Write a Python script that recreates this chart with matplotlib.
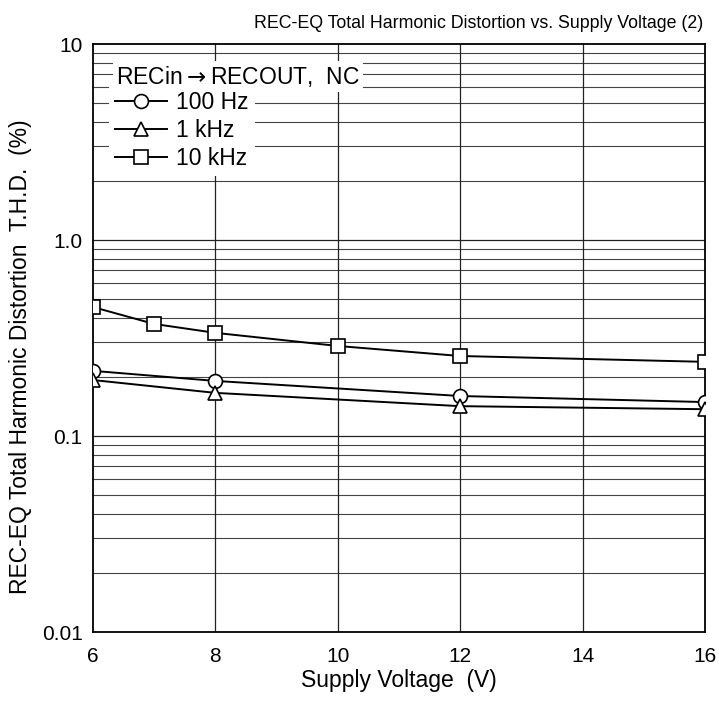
import numpy as np
import matplotlib
matplotlib.use("Agg")
import matplotlib.pyplot as plt
from matplotlib.ticker import FixedLocator, NullFormatter

plt.rcParams['font.family'] = ['Liberation Sans', 'DejaVu Sans']

# datos
v_sq = [6, 7, 8, 10, 12, 16]
thd_10k = [0.455, 0.373, 0.336, 0.288, 0.256, 0.239]

v_ci = [6, 8, 12, 16]
thd_100 = [0.215, 0.191, 0.160, 0.149]
thd_1k = [0.193, 0.166, 0.142, 0.137]

x_ticks = [6, 8, 10, 12, 14, 16]
y_ticks = [0.01, 0.1, 1.0, 10]
y_labels = ['0.01', '0.1', '1.0', '10']

fig = plt.figure(figsize=(7.19, 7.02), dpi=100)
ax = fig.add_axes([0.1293, 0.0997, 0.8512, 0.8376])

ax.set_yscale('log')
ax.set_xlim(6, 16)
ax.set_ylim(0.01, 10)

# rejilla
minors = [m * 10.0**d for d in range(-2, 1) for m in range(2, 10)]
for yv in minors:
    ax.axhline(yv, color='#444444', lw=0.8, zorder=1)
for yv in y_ticks[1:-1]:
    ax.axhline(yv, color='#222222', lw=0.9, zorder=1)
for xv in x_ticks[1:-1]:
    ax.axvline(xv, color='#222222', lw=0.9, zorder=1)

kw = dict(color='black', lw=1.4, markersize=10, markerfacecolor='white',
          markeredgecolor='black', markeredgewidth=1.2, zorder=3)
ax.plot(v_ci, thd_100, marker='o', label='100 Hz', **kw)
ax.plot(v_ci, thd_1k, marker='^', label='1 kHz', **kw)
ax.plot(v_sq, thd_10k, marker='s', label='10 kHz', **kw)

ax.xaxis.set_major_locator(FixedLocator(x_ticks))
ax.yaxis.set_major_locator(FixedLocator(y_ticks))
ax.yaxis.set_minor_formatter(NullFormatter())
ax.yaxis.set_minor_locator(FixedLocator([]))
ax.set_yticklabels(y_labels)
ax.tick_params(length=0, labelsize=15)
ax.tick_params(axis='x', pad=11)
ax.tick_params(axis='y', pad=7.5)

for s in ax.spines.values():
    s.set_linewidth(1.3)

ax.set_xlabel('Supply Voltage  (V)', fontsize=16.5, labelpad=2)
ax.set_ylabel('REC-EQ Total Harmonic Distortion  T.H.D.  (%)', fontsize=16.5)
ax.yaxis.set_label_coords(-0.100, 0.469)
fig.text(703 / 719, 1 - 23 / 702, 'REC-EQ Total Harmonic Distortion vs. Supply Voltage (2)',
         fontsize=12.8, ha='right', va='center')

# titulo de la leyenda con fondo blanco propio
ax.text(0.0376, 0.945, r'RECin$\rightarrow$RECOUT,  NC', transform=ax.transAxes,
        fontsize=16.5, ha='left', va='center', zorder=6,
        bbox=dict(facecolor='white', edgecolor='none', pad=2))

leg = ax.legend(loc='upper left', bbox_to_anchor=(0.026, 0.930),
                frameon=True, fancybox=False, edgecolor='none',
                facecolor='white', framealpha=1, fontsize=16.5,
                handlelength=2.3, handletextpad=0.4, labelspacing=0.22,
                borderpad=0.25, borderaxespad=0)
leg.set_zorder(5)

fig.savefig('out.png', dpi=100)
